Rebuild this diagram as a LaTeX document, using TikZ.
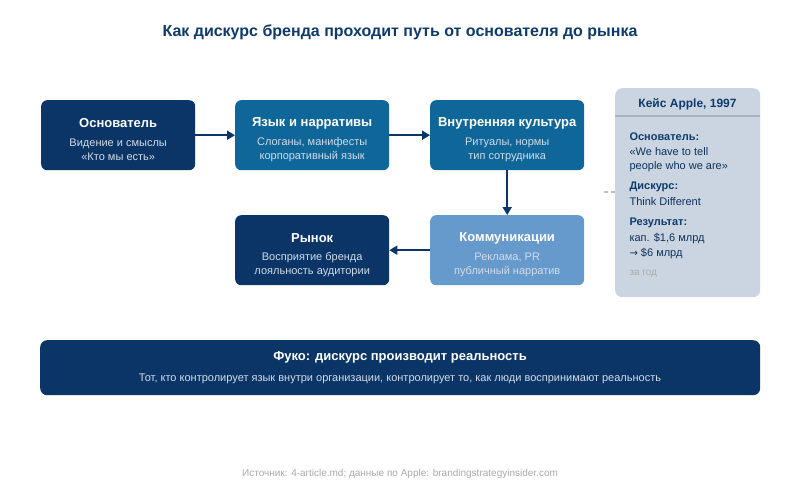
\documentclass[tikz,border=0pt]{standalone}
\usepackage{fontspec}
\setmainfont{Liberation Sans}
\usetikzlibrary{arrows.meta}
\definecolor{navy}{HTML}{0A3566}
\definecolor{midblue}{HTML}{0F6699}
\definecolor{lightblue}{HTML}{6699CC}
\definecolor{panel}{HTML}{CBD5E1}
\definecolor{titlec}{HTML}{0E3B6C}
\definecolor{subtext}{HTML}{D2DCE8}
\definecolor{footc}{HTML}{AAAAAA}
\definecolor{sepc}{HTML}{A9B1BA}
\begin{document}
\begin{tikzpicture}[x=1pt,y=-1pt,
  flowbox/.style={rounded corners=6pt,minimum width=154pt,minimum height=70pt,inner sep=0pt,anchor=north west},
  boxtitle/.style={font=\bfseries\fontsize{13}{15}\selectfont,text=white},
  boxsub/.style={font=\fontsize{11}{14}\selectfont,text=subtext,align=center},
  flow/.style={draw=navy,line width=1.8pt,-{Triangle[length=8pt,width=9pt]}},
  applelab/.style={font=\bfseries\fontsize{11}{13}\selectfont,text=titlec,anchor=west},
  appletxt/.style={font=\fontsize{11}{13}\selectfont,text=titlec!85!black,anchor=west}]
\useasboundingbox (0,0) rectangle (800,500);
\fill[white] (0,0) rectangle (800,500);
% title
\node[font=\bfseries\fontsize{16}{19}\selectfont,text=titlec] (title) at (400,32) {Как дискурс бренда проходит путь от основателя до рынка};
% boxes
\node[flowbox,fill=navy] (b1) at (41,100) {};
\node[flowbox,fill=midblue] (b2) at (235,100) {};
\node[flowbox,fill=midblue] (b3) at (430,100) {};
\node[flowbox,fill=lightblue] (b4) at (430,215) {};
\node[flowbox,fill=navy] (b5) at (235,215) {};
% box texts
\node[boxtitle] (t1) at ([yshift=-23pt]b1.north) {Основатель};
\node[boxsub] (s1) at ([yshift=-50pt]b1.north) {Видение и смыслы\\«Кто мы есть»};
\node[boxtitle] (t2) at ([yshift=-23pt]b2.north) {Язык и нарративы};
\node[boxsub] (s2) at ([yshift=-50pt]b2.north) {Слоганы, манифесты\\корпоративный язык};
\node[boxtitle] (t3) at ([yshift=-23pt]b3.north) {Внутренняя культура};
\node[boxsub] (s3) at ([yshift=-50pt]b3.north) {Ритуалы, нормы\\тип сотрудника};
\node[boxtitle] (t4) at ([yshift=-23pt]b4.north) {Коммуникации};
\node[boxsub] (s4) at ([yshift=-50pt]b4.north) {Реклама, PR\\публичный нарратив};
\node[boxtitle] (t5) at ([yshift=-23pt]b5.north) {Рынок};
\node[boxsub] (s5) at ([yshift=-50pt]b5.north) {Восприятие бренда\\лояльность аудитории};
% arrows
\draw[flow] (b1.east) -- (b2.west);
\draw[flow] (b2.east) -- (b3.west);
\draw[flow] (b3.south) -- (b4.north);
\draw[flow] (b4.west) -- (b5.east);
% apple panel
\node[fill=panel,rounded corners=7pt,minimum width=145pt,minimum height=209pt,inner sep=0pt,anchor=north west] (apple) at (615,88) {};
\draw[sepc,line width=1.5pt] (615,116) -- (760,116);
\node[font=\bfseries\fontsize{12}{14}\selectfont,text=titlec] (ah) at (687.5,104) {Кейс Apple, 1997};
\node[applelab] (a1) at (626,136.5) {Основатель:};
\node[appletxt] (a2) at (626,152) {«We have to tell};
\node[appletxt] (a3) at (626,167) {people who we are»};
\node[applelab] (a4) at (626,187) {Дискурс:};
\node[appletxt] (a5) at (626,202) {Think Different};
\node[applelab] (a6) at (626,223) {Результат:};
\node[appletxt] (a7) at (626,238.5) {кап. \$1,6 млрд};
\node[appletxt] (a8) at (626,254) {\fontspec{DejaVu Sans}\fontsize{10}{13}\selectfont→\fontspec{Liberation Sans}\fontsize{11}{13}\selectfont{} \$6 млрд};
\node[appletxt,text=footc,font=\fontsize{10}{12}\selectfont] (a9) at (626,274) {за год};
\coordinate (dstart) at (604,192);
\draw[sepc!80!white,line width=1.2pt,dash pattern=on 4pt off 3pt] (dstart) -- (apple.west |- dstart);
% bottom banner
\node[fill=navy,rounded corners=7pt,minimum width=720pt,minimum height=55pt,inner sep=0pt,anchor=north west] (banner) at (40,340) {};
\node[font=\bfseries\fontsize{13}{15}\selectfont,text=white] (bt) at (400,357) {Фуко: дискурс производит реальность};
\node[font=\fontsize{11}{13}\selectfont,text=subtext] (bs) at (400,379) {Тот, кто контролирует язык внутри организации, контролирует то, как люди воспринимают реальность};
% footer
\node[font=\fontsize{10}{12}\selectfont,text=footc] (foot) at (400,474) {Источник: 4-article.md; данные по Apple: brandingstrategyinsider.com};
\end{tikzpicture}
\end{document}
